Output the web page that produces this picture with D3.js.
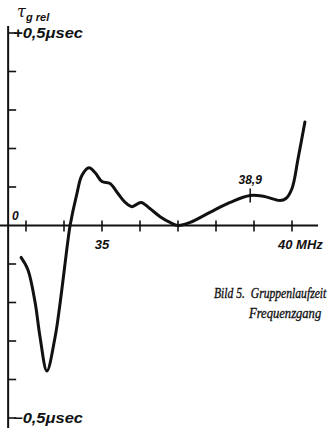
<!DOCTYPE html>
<html>
<head>
<meta charset="utf-8">
<script src="https://cdn.jsdelivr.net/npm/d3@7"></script>
<style>
  html, body { margin: 0; padding: 0; background: #fff; }
  svg { display: block; }
  .lbl { font-family: "Liberation Sans", Arial, sans-serif; font-style: italic; font-weight: bold; fill: #111; }
  .tau { font-family: "DejaVu Serif", serif; font-style: italic; font-weight: normal; fill: #111; }
  .cap { font-family: "Liberation Serif", serif; font-style: italic; fill: #111; stroke: #111; stroke-width: 0.35; white-space: pre; }
</style>
</head>
<body>
<svg id="chart" width="332" height="428"></svg>
<script>
// Frequency in MHz, relative group delay in microseconds
const freq  = [32.87, 33.05, 33.24, 33.37, 33.55, 33.76, 33.89, 34.11, 34.16, 34.34, 34.47, 34.66, 34.82, 35.00, 35.21, 35.42, 35.61, 35.79, 36.03, 36.26, 36.53, 36.79, 37.00, 37.32, 37.84, 38.37, 38.90, 39.29, 39.68, 39.84, 40.00, 40.16, 40.34];
const delay = [-0.083, -0.115, -0.200, -0.290, -0.378, -0.293, -0.207, -0.034, 0.000, 0.083, 0.130, 0.150, 0.137, 0.114, 0.109, 0.083, 0.060, 0.049, 0.060, 0.044, 0.023, 0.008, 0.000, 0.008, 0.034, 0.060, 0.078, 0.075, 0.065, 0.070, 0.096, 0.174, 0.269];
const xTicks = [33, 34, 35, 36, 37, 38, 39, 40];
const xTickLabels = [{ f: 35, text: "35" }, { f: 40, text: "40 MHz" }];
const yTicks = [-0.5, -0.4, -0.3, -0.2, -0.1, 0.1, 0.2, 0.3, 0.4, 0.5];
const markFreq = 38.9;
const markLabel = "38,9";

const svg = d3.select("#chart");
const x = d3.scaleLinear().domain([35, 40]).range([102, 292]);
const y = d3.scaleLinear().domain([-0.5, 0.5]).range([418, 33]);
const x0 = x(32.53);   // vertical axis position
const y0 = y(0);

// axes lines
svg.append("line").attr("x1", x0).attr("x2", x0).attr("y1", 26).attr("y2", 428)
  .attr("stroke", "#111").attr("stroke-width", 2);
svg.append("line").attr("x1", 0).attr("x2", 318).attr("y1", y0).attr("y2", y0)
  .attr("stroke", "#111").attr("stroke-width", 2);

// y ticks (pointing right)
svg.selectAll(".yt").data(yTicks).enter().append("line")
  .attr("x1", x0).attr("x2", x0 + 8)
  .attr("y1", d => y(d)).attr("y2", d => y(d))
  .attr("stroke", "#111").attr("stroke-width", 1.6);

// x ticks (crossing the axis)
svg.selectAll(".xt").data(xTicks).enter().append("line")
  .attr("x1", d => x(d)).attr("x2", d => x(d))
  .attr("y1", y0 - 5).attr("y2", y0 + 6)
  .attr("stroke", "#111").attr("stroke-width", 1.6);

// x tick labels
svg.selectAll(".xl").data(xTickLabels).enter().append("text")
  .attr("class", "lbl")
  .attr("x", d => d.f === 40 ? x(d.f) - 14 : x(d.f))
  .attr("y", y0 + 23)
  .attr("text-anchor", d => d.f === 40 ? "start" : "middle")
  .attr("font-size", 13)
  .text(d => d.text);

// y labels
svg.append("text").attr("class", "lbl").attr("x", 12).attr("y", y0 - 6)
  .attr("font-size", 12).text("0");
svg.append("text").attr("class", "lbl").attr("x", 13).attr("y", y(0.5) + 5)
  .attr("font-size", 14).attr("textLength", 70).attr("lengthAdjust", "spacingAndGlyphs")
  .text("+0,5\u03BCsec");
svg.append("text").attr("class", "lbl").attr("x", 13).attr("y", y(-0.5) + 5)
  .attr("font-size", 14).attr("textLength", 70).attr("lengthAdjust", "spacingAndGlyphs")
  .text("\u22120,5\u03BCsec");

// axis title tau_g rel
svg.append("text").attr("class", "tau").attr("x", 17).attr("y", 17).attr("font-size", 16).text("\u03C4");
svg.append("text").attr("class", "lbl").attr("x", 26).attr("y", 21).attr("font-size", 11).text("g rel");

// curve
const pts = freq.map((f, i) => [f, delay[i]]);
svg.append("path").datum(pts)
  .attr("d", d3.line().x(d => x(d[0])).y(d => y(d[1])).curve(d3.curveCatmullRom.alpha(0.5)))
  .attr("fill", "none").attr("stroke", "#111").attr("stroke-width", 3)
  .attr("stroke-linecap", "round").attr("stroke-linejoin", "round");

// marker at 38.9 MHz
const markVal = delay[freq.indexOf(markFreq)];
svg.append("line").attr("x1", x(markFreq)).attr("x2", x(markFreq))
  .attr("y1", y(markVal) - 7).attr("y2", y(markVal) + 7)
  .attr("stroke", "#111").attr("stroke-width", 1.5);
svg.append("text").attr("class", "lbl").attr("x", x(markFreq)).attr("y", y(markVal) - 11)
  .attr("text-anchor", "middle").attr("font-size", 12).text(markLabel);

// caption, set in a horizontally condensed serif
svg.append("g").attr("transform", "translate(214,298) scale(0.83,1)")
  .append("text").attr("class", "cap").attr("font-size", 14)
  .text("Bild 5.  Gruppenlaufzeit");
svg.append("g").attr("transform", "translate(249,318) scale(0.9,1)")
  .append("text").attr("class", "cap").attr("font-size", 14)
  .text("Frequenzgang");
</script>
</body>
</html>
